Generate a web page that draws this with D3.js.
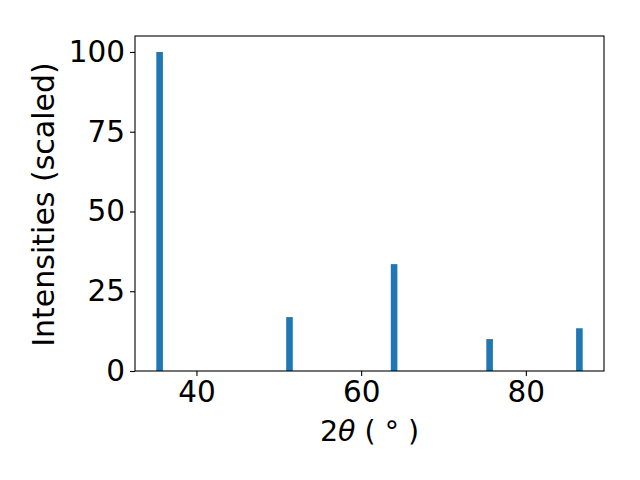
<!DOCTYPE html>
<html lang="en">
<head>
<meta charset="utf-8">
<title>XRD peaks</title>
<script src="https://d3js.org/d3.v7.min.js"></script>
<style>
body { margin: 0; background: #fff; }
text { font-family: "DejaVu Sans", sans-serif; fill: #000; }
</style>
</head>
<body>
<div id="chart"></div>
<script>
// peak positions (2theta, degrees) and scaled intensities
var peaks = [35.53, 51.3, 64.0, 75.6, 86.5];
var intensities = [100, 16.9, 33.5, 10.0, 13.4];
var xTicks = [40, 60, 80];
var yTicks = [0, 25, 50, 75, 100];
var barWidth = 0.8;

var W = 640, H = 480;
var margin = {top: 36, right: 36, bottom: 109, left: 135};
var width = W - margin.left - margin.right,
    height = H - margin.top - margin.bottom;
var fs = "29.5px";

var svg = d3.select("#chart")
  .append("svg")
    .attr("width", W)
    .attr("height", H)
  .append("g")
    .attr("transform", "translate(" + margin.left + "," + margin.top + ")");

// matplotlib style 5% padding around the bars
var lo = d3.min(peaks) - barWidth / 2, hi = d3.max(peaks) + barWidth / 2;
var pad = (hi - lo) * 0.05;
var x = d3.scaleLinear().domain([lo - pad, hi + pad]).range([0, width]);
var y = d3.scaleLinear().domain([0, 105]).range([height, 0]);

svg.selectAll("rect")
  .data(peaks)
  .enter()
  .append("rect")
    .attr("x", function(d) { return x(d - barWidth / 2); })
    .attr("width", function(d) { return x(d + barWidth / 2) - x(d - barWidth / 2); })
    .attr("y", function(d, i) { return y(intensities[i]); })
    .attr("height", function(d, i) { return height - y(intensities[i]); })
    .attr("fill", "#1f77b4");

var xAxis = svg.append("g")
  .attr("transform", "translate(0," + height + ")")
  .call(d3.axisBottom(x).tickValues(xTicks).tickSize(5).tickPadding(5).tickFormat(d3.format("d")));
var yAxis = svg.append("g")
  .call(d3.axisLeft(y).tickValues(yTicks).tickSize(5).tickPadding(5).tickFormat(d3.format("d")));

[xAxis, yAxis].forEach(function(a) {
  a.select(".domain").remove();
  a.selectAll("line").attr("stroke", "#000").attr("stroke-width", 1.1);
  a.selectAll("text").style("font-size", fs).attr("fill", "#000");
});

// frame
svg.append("rect")
  .attr("width", width).attr("height", height)
  .attr("fill", "none").attr("stroke", "#000").attr("stroke-width", 1.1);

// axis labels
var xl = svg.append("text")
  .attr("x", width / 2).attr("y", height + 70)
  .attr("text-anchor", "middle")
  .style("font-size", "28.5px");
xl.append("tspan").text("2");
xl.append("tspan").style("font-style", "italic").text("θ");
xl.append("tspan").text(" ( ° )");

svg.append("text")
  .attr("transform", "translate(" + (-81.5) + "," + (height / 2 + 1) + ") rotate(-90)")
  .attr("text-anchor", "middle")
  .style("font-size", "30px")
  .text("Intensities (scaled)");
</script>
</body>
</html>
